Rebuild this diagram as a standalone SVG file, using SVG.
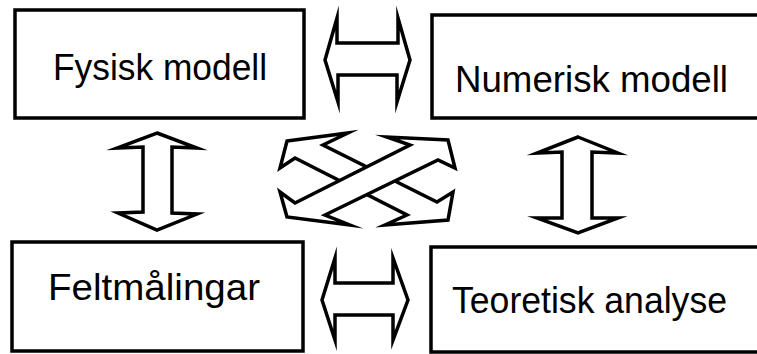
<svg xmlns="http://www.w3.org/2000/svg" width="757" height="354" viewBox="0 0 757 354">
<style>
.box{fill:#fff;stroke:#000;stroke-width:3.5}
.lbl{font-family:"Liberation Sans",Arial,sans-serif;font-size:37px;fill:#000}
.arr{fill:#fff;stroke:#000;stroke-width:3.5;stroke-linejoin:miter;stroke-miterlimit:10}
</style>
<rect width="757" height="354" fill="#fff"/>
<g id="fysisk">
<rect class="box" x="15" y="10" width="289" height="108"/>
<text class="lbl" x="53" y="80" textLength="214" lengthAdjust="spacingAndGlyphs">Fysisk modell</text>
</g>
<g id="numerisk">
<rect class="box" x="432" y="15" width="330" height="103"/>
<text class="lbl" x="455" y="92" textLength="273" lengthAdjust="spacingAndGlyphs">Numerisk modell</text>
</g>
<g id="felt">
<rect class="box" x="12" y="242" width="291" height="109"/>
<text class="lbl" x="48" y="300" textLength="212" lengthAdjust="spacingAndGlyphs">Feltmålingar</text>
</g>
<g id="teoretisk">
<rect class="box" x="431" y="247" width="330" height="105"/>
<text class="lbl" x="452" y="313" textLength="275" lengthAdjust="spacingAndGlyphs">Teoretisk analyse</text>
</g>
<g id="connectors">
<polygon class="arr" points="325,60 337,18 337,43 398,43 398,18 410,60 397,102 397,75 338,75 338,102"/>
<polygon class="arr" points="322,300 335,258 335,283 393,283 393,258 408,300 393,340 393,315 335,315 335,340"/>
<polygon class="arr" points="157,133 197,148 172,147 172,213 197,214 157,230 118,213 143,212 143,147 117,148"/>
<polygon class="arr" points="578,137 618,153 592,152 592,218 618,218 578,233 537,218 562,218 562,152 537,153"/>
<polygon class="arr" points="287,141 348,133 323,145 437,202 453,192 448,220 385,225 407,215 295,158 280,168"/>
<polygon class="arr" points="287,217 280,192 295,203 410,145 387,137 448,140 455,168 438,160 325,215 350,225"/>
</g>
</svg>
